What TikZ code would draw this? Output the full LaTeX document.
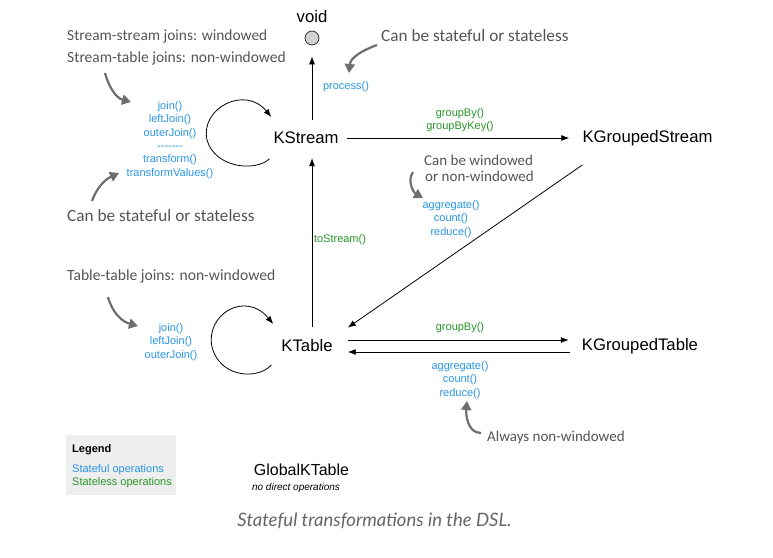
\documentclass[tikz,border=0pt]{standalone}
\usepackage{fontspec}
\setmainfont{Liberation Sans}
\newfontfamily\handfont{Carlito}
\newfontfamily\capfont{Lato}
\usetikzlibrary{arrows.meta}
\definecolor{opblue}{RGB}{40,150,230}
\definecolor{opgreen}{RGB}{40,150,40}
\definecolor{handgray}{RGB}{85,85,85}
\definecolor{anngray}{RGB}{110,110,110}
\definecolor{legendbg}{RGB}{238,238,238}
\begin{document}
\begin{tikzpicture}[x=1pt,y=-1pt,
  main/.style={inner sep=0pt,font=\fontsize{16.7}{18}\selectfont},
  ops/.style={inner sep=0pt,align=center,font=\fontsize{11}{13.3}\selectfont},
  hand/.style={inner sep=0pt,anchor=west,text=handgray,font=\handfont\fontsize{#1}{#1}\selectfont},
  hand/.default=16,
  arr/.style={draw=black,line width=0.8pt,-{Latex[length=8pt,width=6pt]}},
  ann/.style={draw=anngray,line width=2.2pt,-{Triangle[length=9pt,width=10pt]}}]
\useasboundingbox[fill=white] (0,0) rectangle (773,557);

% main nodes
\node[main] (voidt) at (312,17) {void};
\node[circle,draw=black!80,fill=black!18,line width=0.8pt,minimum size=14pt,inner sep=0pt] (voidc) at (312,38) {};
\node[main] (ks) at (306,138) {KStream};
\node[main] (kgs) at (647.5,138) {KGroupedStream};
\node[main] (kt) at (307,346) {KTable};
\node[main] (kgt) at (640,346) {KGroupedTable};
\node[main,font=\fontsize{16}{18}\selectfont] (gkt) at (301.5,470) {GlobalKTable};
\node[inner sep=0pt,font=\itshape\fontsize{10}{12}\selectfont] (gktsub) at (296,488) {no direct operations};

% operation labels
\node[ops,text=opblue] (proc) at (346,87) {process()};
\node[ops,text=opgreen] (gbk) at (460,120) {groupBy()\\groupByKey()};
\node[ops,text=opblue] (kgsops) at (451,219) {aggregate()\\count()\\reduce()};
\node[ops,text=opgreen] (tos) at (340,240) {toStream()};
\node[ops,text=opgreen] (gb) at (460,328) {groupBy()};
\node[ops,text=opblue] (kgtops) at (460,380) {aggregate()\\count()\\reduce()};
\node[ops,text=opblue] (ksops) at (170,140) {join()\\leftJoin()\\outerJoin()\\-{}-{}-{}-{}-{}-{}-\\transform()\\transformValues()};
\node[ops,text=opblue] (ktops) at (171,342) {join()\\leftJoin()\\outerJoin()};

% handwritten notes
\node[hand=15.4] (h1) at (67,36) {Stream-stream joins: windowed};
\node[hand=15.5] (h2) at (67,58) {Stream-table joins: non-windowed};
\node[hand=17.2] (h3) at (67,216) {Can be stateful or stateless};
\node[hand=17.2] (h4) at (381,36) {Can be stateful or stateless};
\node[hand=15] (h5a) at (424,160) {Can be windowed};
\node[hand=15] (h5b) at (425,176) {or non-windowed};
\node[hand=15.6] (h6) at (67,276) {Table-table joins: non-windowed};
\node[hand=15] (h7) at (487,437) {Always non-windowed};

% legend
\node[fill=legendbg,minimum width=110pt,minimum height=60pt,inner sep=0pt] (leg) at (120.5,465) {};
\node[inner sep=0pt,anchor=west,font=\bfseries\fontsize{11}{13}\selectfont] (legt) at (72,450) {Legend};
\node[inner sep=0pt,anchor=west,text=opblue,font=\fontsize{11}{13}\selectfont] (leg1) at (72,469.5) {Stateful operations};
\node[inner sep=0pt,anchor=west,text=opgreen,font=\fontsize{11}{13}\selectfont] (leg2) at (72,483) {Stateless operations};

% caption
\node[inner sep=0pt,text=black!60,font=\capfont\itshape\fontsize{18.5}{20}\selectfont] (cap) at (374.5,521) {Stateful transformations in the DSL.};

% connectors
\draw[arr] ([yshift=12pt]voidc.south |- ks.north) -- ([yshift=-11pt]voidc.south);
\draw[arr] ([xshift=8pt]ks.east) -- ([xshift=-13pt]kgs.west);
\draw[arr] ([yshift=-19pt]kgs.south west) -- ([xshift=15pt,yshift=12pt]kt.north east);
\draw[arr] ([yshift=13pt]voidc.south |- kt.north) -- ([yshift=-14pt]voidc.south |- ks.south);
\draw[arr] ([xshift=15pt,yshift=6pt]kt.east) -- ([xshift=-13pt,yshift=6pt]kgt.west);
\draw[arr] ([xshift=-12pt,yshift=-6pt]kgt.west) -- ([xshift=15pt,yshift=-6pt]kt.east);

% self loops
\draw[arr] ([xshift=-4pt,yshift=-21pt]ks.west) .. controls (255,172) and (215,168) .. (207,140)
  .. controls (200,108) and (245,85) .. ([xshift=-2pt,yshift=21pt]ks.west);
\draw[arr] ([xshift=-10pt,yshift=-19pt]kt.west) .. controls (258,380) and (220,378) .. (212,347)
  .. controls (205,315) and (245,290) .. ([xshift=-8pt,yshift=22pt]kt.west);

% annotation arrows
\coordinate (a1s) at (105,73);  \coordinate (a1e) at (131,102);
\coordinate (a2s) at (92,201);  \coordinate (a2e) at (119,173);
\coordinate (a3s) at (377,45);  \coordinate (a3e) at (349,73);
\coordinate (a4s) at (413,172); \coordinate (a4e) at (423,198);
\coordinate (a5s) at (108,297); \coordinate (a5e) at (138,326);
\coordinate (a6s) at (481,433); \coordinate (a6e) at (467,401);
\draw[ann] (a1s) to[out=-75,in=165] (a1e);
\draw[ann] (a2s) to[out=70,in=205] (a2e);
\draw[ann] (a3s) to[out=200,in=85] (a3e);
\draw[ann] (a4s) to[out=235,in=150] (a4e);
\draw[ann] (a5s) to[out=-75,in=165] (a5e);
\draw[ann] (a6s) to[out=180,in=-95] (a6e);
\end{tikzpicture}
\end{document}
